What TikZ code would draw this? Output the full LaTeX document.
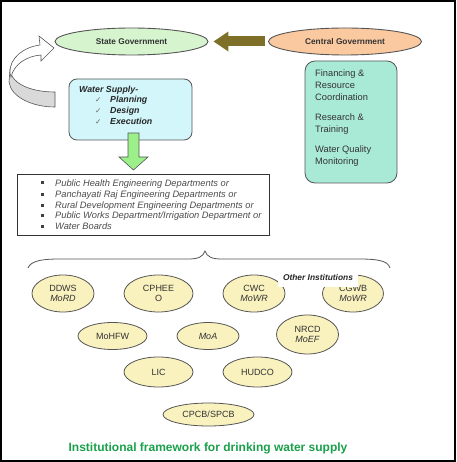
\documentclass[tikz,border=0pt]{standalone}
\usepackage{fontspec}
\setmainfont{Liberation Sans}
\newfontfamily\dejavu{DejaVu Sans}
\usetikzlibrary{shapes.geometric,arrows.meta,calc}
\definecolor{stategreen}{HTML}{D6F5CF}
\definecolor{centralorange}{HTML}{FBC9A0}
\definecolor{olivearrow}{HTML}{7F7029}
\definecolor{wsblue}{HTML}{D2F6FA}
\definecolor{rbox}{HTML}{A9EAD6}
\definecolor{instyellow}{HTML}{F9F1BE}
\definecolor{capgreen}{HTML}{19A04A}
\definecolor{arrowgreen}{HTML}{9BF08A}
\definecolor{txtgray}{HTML}{333333}
\definecolor{edgegray}{HTML}{555555}
\begin{document}
\begin{tikzpicture}[x=1pt,y=-1pt,
  govell/.style={ellipse, draw=edgegray, line width=0.9pt, minimum width=153pt, minimum height=27pt, inner sep=0pt, font=\fontsize{8.3}{10}\selectfont\bfseries, text=txtgray},
  inst/.style={ellipse, draw=edgegray, line width=0.8pt, fill=instyellow, inner sep=0pt, align=center, font=\fontsize{9}{10.5}\selectfont, text=txtgray},
  wsline/.style={anchor=base west, inner sep=0pt, font=\fontsize{8.8}{10}\selectfont\bfseries\itshape, text=black!85},
  chk/.style={anchor=base west, inner sep=0pt, font=\fontsize{7.5}{9}\dejavu, text=black!60},
  rline/.style={anchor=base west, inner sep=0pt, font=\fontsize{9.3}{11}\selectfont, text=txtgray},
  lline/.style={anchor=base west, inner sep=0pt, font=\fontsize{9.3}{10.7}\selectfont\itshape, text=black!70},
  bul/.style={fill=black!75, inner sep=0pt, minimum size=3pt},
]
\useasboundingbox (0,0) rectangle (456,462);
\draw[line width=2pt] (1,1) rectangle (455,461);

% governments
\node[govell, fill=stategreen] (state) at (131.5,41.5) {State Government};
\node[govell, fill=centralorange] (central) at (345,41.5) {Central Government};
\draw[olivearrow, line width=10pt, shorten >=5pt, shorten <=3pt, -{Triangle[length=15pt,width=19pt]}] (central.west) -- (state.east);

% curved arrow on the left
\filldraw[fill=black!15, draw=edgegray, line width=0.6pt] (10,70) .. controls (12,85) and (33,92) .. (55,92) -- (55,107) .. controls (32,107) and (11,97) .. (9,82) -- cycle;
\filldraw[fill=white, draw=edgegray, line width=0.6pt] (10,73) .. controls (9,58) and (24,47) .. (40,45) -- (39,36) -- (54,48) -- (41,61) -- (41,55) .. controls (27,56) and (14,64) .. (11,77) -- cycle;

% water supply box
\node[draw=edgegray, line width=0.8pt, fill=wsblue, rounded corners=8pt, minimum width=123pt, minimum height=61pt, inner sep=0pt] (ws) at (130.5,109.5) {};
\node[wsline] (ws0) at (79,93) {Water Supply-};
\node[chk] (c1) at (95,103) {✓};
\node[wsline] (ws1) at (110,103) {Planning};
\node[chk] (c2) at (95,114) {✓};
\node[wsline] (ws2) at (110,114) {Design};
\node[chk] (c3) at (95,125) {✓};
\node[wsline] (ws3) at (110,125) {Execution};

% green down arrow
\coordinate (gtop) at (133.5,133);
\coordinate (gtip) at (133.5,170);
\filldraw[fill=arrowgreen, draw=edgegray, line width=0.6pt]
  ($(gtop)+(-5.5,0)$) -- ($(gtop)+(5.5,0)$) -- ($(gtip)+(5.5,-13)$) -- ($(gtip)+(14.5,-13)$) -- (gtip)
  -- ($(gtip)+(-14.5,-13)$) -- ($(gtip)+(-5.5,-13)$) -- cycle;

% right box
\node[draw=edgegray, line width=0.8pt, fill=rbox, rounded corners=10pt, minimum width=92pt, minimum height=122pt, inner sep=0pt] (rb) at (351,122) {};
\node[rline] (r1) at (315,77) {Financing \&};
\node[rline] (r2) at (315,89) {Resource};
\node[rline] (r3) at (315,100.5) {Coordination};
\node[rline] (r4) at (315,121) {Research \&};
\node[rline] (r5) at (315,132.5) {Training};
\node[rline] (r6) at (315,153) {Water Quality};
\node[rline] (r7) at (315,164.5) {Monitoring};

% list box
\node[draw=black!80, line width=0.8pt, fill=white, minimum width=252pt, minimum height=61pt, inner sep=0pt] (list) at (143,204.5) {};
\node[bul] (b1) at (42,183) {};
\node[lline] (l1) at (55,186) {Public Health Engineering Departments or};
\node[bul] (b2) at (42,194) {};
\node[lline] (l2) at (55,197) {Panchayati Raj Engineering Departments or};
\node[bul] (b3) at (42,205) {};
\node[lline] (l3) at (55,208) {Rural Development Engineering Departments or};
\node[bul] (b4) at (42,215.5) {};
\node[lline] (l4) at (55,218.5) {Public Works Department/Irrigation Department or};
\node[bul] (b5) at (42,226) {};
\node[lline] (l5) at (55,229) {Water Boards};

% brace
\draw[edgegray, line width=0.8pt] (28,268) .. controls (31,260) and (45,259) .. (60,259) -- (188,259)
  .. controls (198,259) and (203,257) .. (205,251) .. controls (207,257) and (212,259) .. (222,259)
  -- (358,259) .. controls (375,259) and (388,260) .. (390,268);

% institutions
\node[inst, minimum width=62pt, minimum height=37pt] (ddws) at (63,293.5) {DDWS\\\textit{MoRD}};
\node[inst, minimum width=69pt, minimum height=37pt] (cpheeo) at (158.5,293.5) {CPHEE\\O};
\node[inst, minimum width=62pt, minimum height=37pt] (cwc) at (254,293.5) {CWC\\\textit{MoWR}};
\node[inst, minimum width=61pt, minimum height=37pt] (cgwb) at (353,293.5) {CGWB\\\textit{MoWR}};
\node[inst, minimum width=69pt, minimum height=27pt] (mohfw) at (112.5,336) {MoHFW};
\node[inst, minimum width=62pt, minimum height=27pt] (moa) at (208,336) {\textit{MoA}};
\node[inst, minimum width=62pt, minimum height=39pt] (nrcd) at (307.5,334.5) {NRCD\\\textit{MoEF}};
\node[inst, minimum width=69pt, minimum height=30pt] (lic) at (158.5,372) {LIC};
\node[inst, minimum width=69pt, minimum height=30pt] (hudco) at (257.5,372) {HUDCO};
\node[inst, minimum width=91pt, minimum height=23pt] (cpcb) at (208.5,414.5) {CPCB/SPCB};
\node[fill=white, inner sep=0pt, minimum width=80pt, minimum height=18pt, font=\fontsize{8.4}{10}\selectfont\bfseries\itshape, text=black!85] (other) at (318,277.5) {Other Institutions};

% caption
\node[anchor=base, inner sep=0pt, font=\fontsize{12}{14}\selectfont\bfseries, text=capgreen] (caption) at (208,451) {Institutional framework for drinking water supply};
\end{tikzpicture}
\end{document}
